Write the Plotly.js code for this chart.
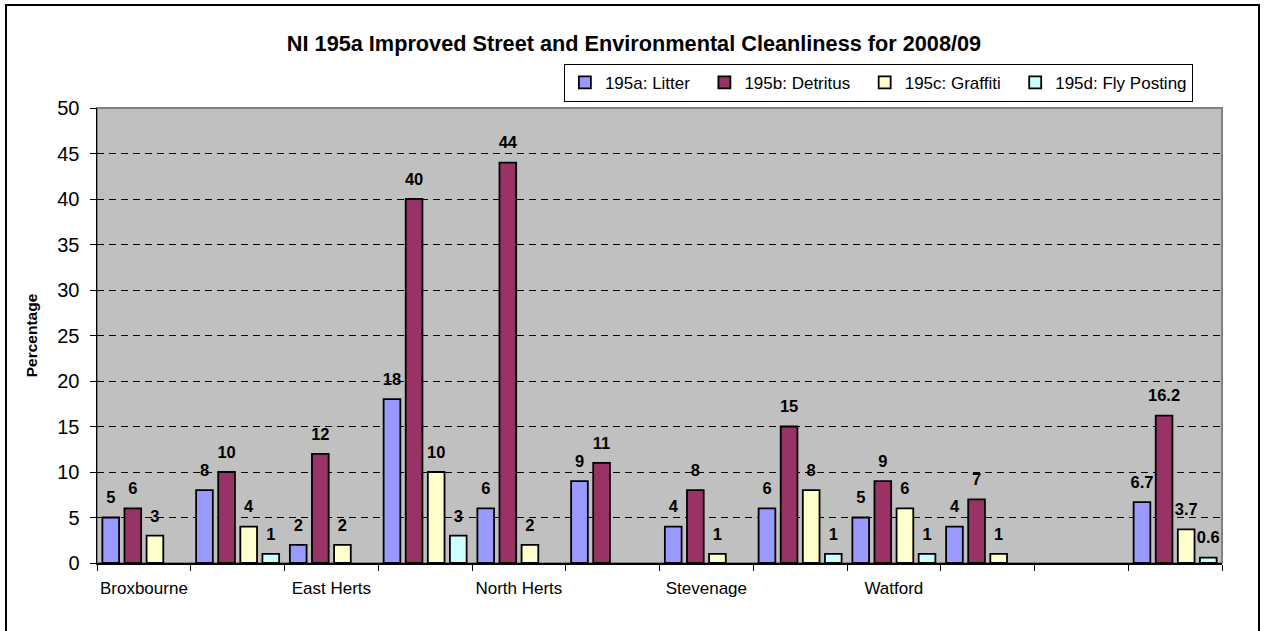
<!DOCTYPE html>
<html>
<head>
<meta charset="utf-8">
<script src="https://cdn.plot.ly/plotly-3.0.1.min.js"></script>
<style>
html,body{margin:0;padding:0;background:#fff;overflow:hidden;}
#chart{position:absolute;left:0;top:0;width:1268px;height:631px;}
#frame{position:absolute;left:5px;top:4px;width:1255px;height:700px;border:2px solid #000;box-sizing:border-box;pointer-events:none;}
</style>
</head>
<body>
<div id="chart"></div>
<div id="frame"></div>
<script>
// Categories (districts); only every other name is labelled on the axis, as in the original
const categories = ['Broxbourne','Dacorum','East Herts','Hertsmere','North Herts','St Albans',
  'Stevenage','Three Rivers','Watford','Welwyn Hatfield','Blank','Hertfordshire'];
const tickLabels = ['Broxbourne','','East Herts','','North Herts','',
  'Stevenage','','Watford','','',''];

const seriesNames = ['195a: Litter','195b: Detritus','195c: Graffiti','195d: Fly Posting'];
const litter     = [5, 8, 2, 18, 6, 9, 4, 6, 5, 4, null, 6.7];
const detritus   = [6, 10, 12, 40, 44, 11, 8, 15, 9, 7, null, 16.2];
const graffiti   = [3, 4, 2, 10, 2, null, 1, 8, 6, 1, null, 3.7];
const flyPosting = [null, 1, null, 3, null, null, null, 1, 1, null, null, 0.6];
const seriesColors = ['#9999FF','#993366','#FFFFCC','#CCFFFF'];

const seriesValues = [litter, detritus, graffiti, flyPosting];

const FONT = 'Liberation Sans, Arial, Helvetica, sans-serif';
const LEGEND_PAD = '\u00a0\u00a0';

const traces = [];
seriesValues.forEach((vals, i) => {
  traces.push({
    type: 'bar',
    name: seriesNames[i] + (i < seriesValues.length - 1 ? LEGEND_PAD : ''),
    x: categories,
    y: vals,
    marker: {color: seriesColors[i], line: {color: '#000', width: 1.8}},
    hoverinfo: 'x+y'
  });
});
// value labels, grouped like the bars
seriesValues.forEach((vals, i) => {
  traces.push({
    type: 'scatter',
    mode: 'markers+text',
    x: categories,
    y: vals,
    text: vals.map(v => v === null ? '' : String(v)),
    textposition: 'top center',
    textfont: {family: FONT, size: 16.5, color: '#000', weight: 'bold'},
    marker: {size: 14.4, opacity: 0, color: '#000'},
    showlegend: false,
    hoverinfo: 'skip',
    cliponaxis: false
  });
});

const layout = {
  width: 1268,
  height: 631,
  margin: {l: 97, r: 46, t: 108, b: 68, pad: 0},
  paper_bgcolor: '#FFFFFF',
  plot_bgcolor: '#C0C0C0',
  font: {family: FONT, color: '#000', size: 17},
  title: {
    text: 'NI 195a Improved Street and Environmental Cleanliness for 2008/09',
    font: {family: FONT, size: 21.7, color: '#000', weight: 'bold'},
    x: 0.5, xref: 'container', xanchor: 'center',
    y: 0.932, yref: 'container', yanchor: 'middle'
  },
  barmode: 'group',
  bargap: 0.057,
  bargroupgap: 0.244,
  scattermode: 'group',
  scattergap: 0.057,
  showlegend: true,
  legend: {
    orientation: 'h',
    x: 0.415, xanchor: 'left',
    y: 1.097, yanchor: 'top',
    bgcolor: '#FFFFFF',
    bordercolor: '#000',
    borderwidth: 1,
    font: {family: FONT, size: 17, color: '#000'}
  },
  xaxis: {
    type: 'category',
    categoryorder: 'array',
    categoryarray: categories,
    tickmode: 'array',
    tickvals: categories,
    ticktext: tickLabels,
    tickangle: 0,
    tickson: 'boundaries',
    ticks: 'outside',
    ticklen: 6,
    tickcolor: '#000',
    tickwidth: 1,
    showline: true,
    linecolor: '#000',
    linewidth: 1.5,
    showgrid: false,
    zeroline: false,
    tickfont: {family: FONT, size: 17, color: '#000'},
    ticklabelstandoff: 9,
    fixedrange: true
  },
  yaxis: {
    range: [0, 50],
    tick0: 0,
    dtick: 5,
    ticks: 'outside',
    ticklen: 6,
    tickcolor: '#000',
    tickwidth: 1,
    showline: true,
    linecolor: '#000',
    linewidth: 1.5,
    showgrid: true,
    gridcolor: '#000',
    gridwidth: 1,
    griddash: '7px,5px',
    zeroline: false,
    tickfont: {family: FONT, size: 20, color: '#000'},
    ticklabelstandoff: 6,
    title: {text: 'Percentage', font: {family: FONT, size: 15.5, color: '#000', weight: 'bold'}, standoff: 16},
    fixedrange: true
  },
  shapes: [{
    type: 'rect', xref: 'paper', yref: 'paper',
    x0: 0, x1: 1, y0: 0, y1: 1,
    line: {color: '#808080', width: 2},
    layer: 'below'
  }]
};

Plotly.newPlot('chart', traces, layout, {displayModeBar: false, staticPlot: true});
</script>
</body>
</html>
